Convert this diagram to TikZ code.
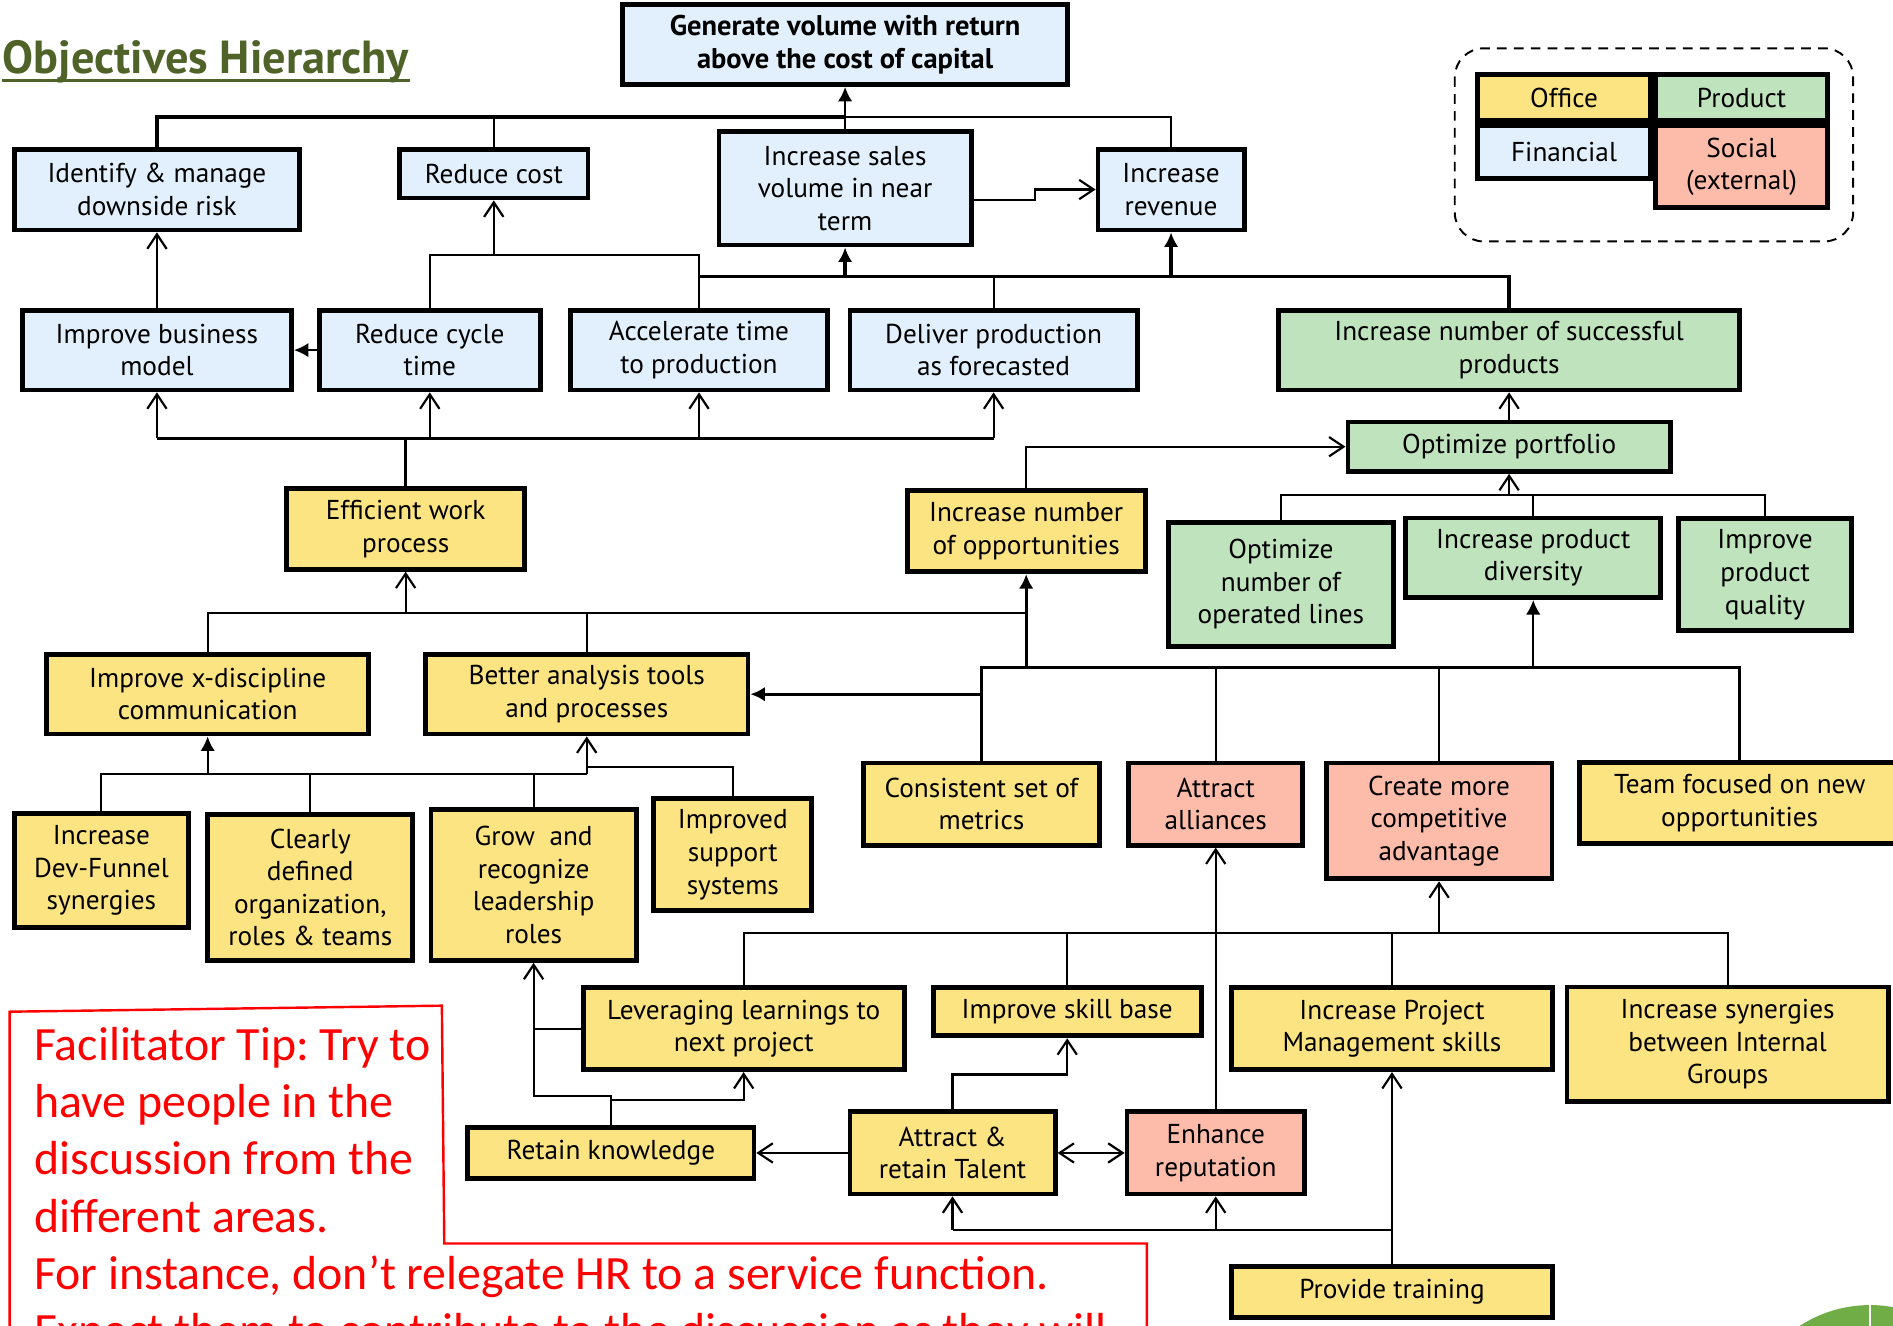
\documentclass[tikz,border=0pt]{standalone}
\usepackage{fontspec}
\setmainfont{PT Sans}
\newfontfamily\tipfont{Carlito}
\usetikzlibrary{arrows.meta}
\frenchspacing

\definecolor{fincol}{RGB}{226,240,254}
\definecolor{offcol}{RGB}{253,228,130}
\definecolor{prodcol}{RGB}{191,227,189}
\definecolor{soccol}{RGB}{253,187,170}
\definecolor{titlegreen}{RGB}{79,98,40}
\definecolor{tipred}{RGB}{255,0,0}
\definecolor{logogreen}{RGB}{112,173,71}

\begin{document}
\begin{tikzpicture}[x=0.5pt,y=-0.5pt,
  boxtext/.style={font=\fontsize{11.3}{13.5}\selectfont},
  obj/.style={draw=black, line width=2pt, align=center, inner sep=1pt, boxtext},
  fin/.style={obj, fill=fincol},
  off/.style={obj, fill=offcol},
  prod/.style={obj, fill=prodcol},
  soc/.style={obj, fill=soccol},
  sz/.style 2 args={minimum width=#1*0.5pt, minimum height=#2*0.5pt},
  link/.style={line width=0.9pt},
  bus/.style={line width=1.4pt},
  openhead/.style={-{Straight Barb[length=6pt,width=8pt]}},
  fillhead/.style={-{Latex[length=6pt,width=6pt]}},
  tipline/.style={anchor=base west, inner sep=0pt, text=tipred,
    font=\tipfont\fontsize{19.8}{24}\selectfont},
]
\useasboundingbox (0,0) rectangle (1568,1098);

% title
\node[anchor=base west, inner sep=0pt, text=titlegreen,
  font=\fontsize{19.2}{22}\selectfont\bfseries] (title) at (2,61) {Objectives Hierarchy};
\draw[titlegreen, line width=1.2pt] ([yshift=-2.8pt]title.base west) -- ([yshift=-2.8pt]title.base east);

% legend
\draw[dashed, dash pattern=on 4pt off 3pt, rounded corners=12pt, line width=0.8pt] (1205,40) rectangle (1535,200);
\node[off, sz={143}{38}] (lgoff) at (1295.5,81) {Office};
\node[prod, sz={143}{38}] (lgprod) at (1442.5,81) {Product};
\node[fin, sz={143}{44}] (lgfin) at (1295.5,126) {Financial};
\node[soc, sz={143}{68}] (lgsoc) at (1442.5,138) {Social\\(external)};

% financial objectives
\node[fin, sz={369}{66}, font=\fontsize{11.8}{13.8}\selectfont\bfseries] (gen) at (700,37) {Generate volume with return\\above the cost of capital};
\node[fin, sz={236}{67}] (idr) at (130,157) {Identify \& manage\\downside risk};
\node[fin, sz={156}{40}] (rc) at (409,144) {Reduce cost};
\node[fin, sz={209}{94}] (isv) at (700,156) {Increase sales\\volume in near\\term};
\node[fin, sz={121}{67}] (ir) at (970,157) {Increase\\revenue};
\node[fin, sz={223}{66}] (ibm) at (130,290) {Improve business\\model};
\node[fin, sz={183}{66}] (rct) at (356,290) {Reduce cycle\\time};
\node[fin, sz={213}{66}] (atp) at (579,290) {Accelerate time\\to production};
\node[fin, sz={238}{66}] (dpf) at (823,290) {Deliver production\\as forecasted};

% product objectives
\node[prod, sz={382}{66}] (insp) at (1250,290) {Increase number of successful\\products};
\node[prod, sz={267}{41}] (op) at (1250,370) {Optimize portfolio};
\node[prod, sz={186}{103}] (onol) at (1061,484) {Optimize\\number of\\operated lines};
\node[prod, sz={211}{66}] (ipd) at (1270,462) {Increase product\\diversity};
\node[prod, sz={143}{93}] (ipq) at (1462,476) {Improve\\product\\quality};

% office objectives
\node[off, sz={197}{67}] (ewp) at (336,438) {Efficient work\\process};
\node[off, sz={197}{67}] (ino) at (850,440) {Increase number\\of opportunities};
\node[off, sz={267}{66}] (ixc) at (172,575) {Improve x-discipline\\communication};
\node[off, sz={267}{66}] (bat) at (486,575) {Better analysis tools\\and processes};
\node[off, sz={144}{94}] (idf) at (84,721) {Increase\\Dev-Funnel\\synergies};
\node[off, sz={170}{121}] (cdo) at (257,735) {Clearly\\defined\\organization,\\roles \& teams};
\node[off, sz={170}{125}] (grl) at (442,733) {Grow\ \ and\\recognize\\leadership\\roles};
\node[off, sz={131}{93}] (iss) at (607,708) {Improved\\support\\systems};
\node[off, sz={196}{68}] (csm) at (813,666) {Consistent set of\\metrics};
\node[soc, sz={144}{68}] (aa) at (1007,666) {Attract\\alliances};
\node[soc, sz={187}{96}] (ccma) at (1192,680) {Create more\\competitive\\advantage};
\node[off, sz={266}{67}] (tfn) at (1441,665) {Team focused on new\\opportunities};
\node[off, sz={266}{68}] (llnp) at (616,852) {Leveraging learnings to\\next project};
\node[off, sz={222}{40}] (isb) at (884,838) {Improve skill base};
\node[off, sz={266}{68}] (ipm) at (1153,852) {Increase Project\\Management skills};
\node[off, sz={266}{95}] (isig) at (1431,865) {Increase synergies\\between Internal\\Groups};
\node[off, sz={237}{42}] (rk) at (506,955) {Retain knowledge};
\node[off, sz={170}{68}] (art) at (789,955) {Attract \&\\retain Talent};
\node[soc, sz={147}{68}] (er) at (1007,955) {Enhance\\reputation};
\node[off, sz={266}{42}] (pt) at (1153,1070) {Provide training};

% bus heights
\coordinate (b97) at (0,97);
\coordinate (b166) at (0,166);
\coordinate (kink) at (857,0);
\coordinate (b211) at (0,211);
\coordinate (b229) at (0,229);
\coordinate (b363) at (0,363);
\coordinate (b410) at (0,410);
\coordinate (b508) at (0,508);
\coordinate (b553) at (0,553);
\coordinate (b635) at (0,635);
\coordinate (b641) at (0,641);
\coordinate (b773) at (0,773);
\coordinate (b890) at (0,890);
\coordinate (b908) at (0,908);
\coordinate (b911) at (0,911);
\coordinate (b1019) at (0,1019);

% top level
\draw[bus] (idr.north) |- (isv.north |- b97);
\draw[link] (isv.north |- b97) -| (ir.north);
\draw[link] (rc.north) -- (rc.north |- b97);
\draw[link] (isv.north) -- (isv.north |- b97);
\draw[link, fillhead] (isv.north |- b97) -- (gen.south);
\draw[link, openhead] (isv.east |- b166) -| (kink |- ir.west) -- (ir.west);

% second level
\draw[link] (rct.north) |- (atp.north |- b211) -- (atp.north);
\draw[link, openhead] (rc.south |- b211) -- (rc.south);
\draw[bus] (atp.north |- b229) -| (insp.north);
\draw[link] (dpf.north) -- (dpf.north |- b229);
\draw[bus, fillhead] (isv.south |- b229) -- (isv.south);
\draw[bus, fillhead] (ir.south |- b229) -- (ir.south);
\draw[link, fillhead] (rct.west) -- (ibm.east);
\draw[link, openhead] (ibm.north) -- (idr.south);

% efficient work process
\draw[bus] (ewp.north) -- (ewp.north |- b363);
\draw[bus] (ibm.south |- b363) -- (dpf.south |- b363);
\draw[link, openhead] (ibm.south |- b363) -- (ibm.south);
\draw[link, openhead] (rct.south |- b363) -- (rct.south);
\draw[link, openhead] (atp.south |- b363) -- (atp.south);
\draw[link, openhead] (dpf.south |- b363) -- (dpf.south);

% portfolio
\draw[link, openhead] (ino.north) |- (op.west);
\draw[link, openhead] (op.north) -- (insp.south);
\draw[link] (onol.north) |- (ipq.north |- b410) -- (ipq.north);
\draw[link] (ipd.north) -- (ipd.north |- b410);
\draw[link, openhead] (op.south |- b410) -- (op.south);

% middle
\draw[link] (ixc.north) |- (ino.south |- b508);
\draw[link] (bat.north) -- (bat.north |- b508);
\draw[link, openhead] (ewp.south |- b508) -- (ewp.south);
\draw[bus, fillhead] (ino.south |- b553) -- (ino.south);
\draw[bus] (csm.north) |- (tfn.north |- b553) -- (tfn.north);
\draw[link] (aa.north) -- (aa.north |- b553);
\draw[link] (ccma.north) -- (ccma.north |- b553);
\draw[link, fillhead] (ipd.south |- b553) -- (ipd.south);
\draw[bus, fillhead] (csm.north |- bat.east) -- (bat.east);

% lower left
\draw[link] (idf.north) |- (bat.south |- b641);
\draw[link] (cdo.north) -- (cdo.north |- b641);
\draw[link] (grl.north) -- (grl.north |- b641);
\draw[link] (iss.north) |- (bat.south |- b635);
\draw[link, fillhead] (ixc.south |- b641) -- (ixc.south);
\draw[link, openhead] (bat.south |- b641) -- (bat.south);

% lower right
\draw[link] (llnp.north) |- (isig.north |- b773) -- (isig.north);
\draw[link] (isb.north) -- (isb.north |- b773);
\draw[link] (ipm.north) -- (ipm.north |- b773);
\draw[link, openhead] (ccma.south |- b773) -- (ccma.south);
\draw[link, openhead] (er.north) -- (aa.south);

% talent and knowledge
\draw[link, openhead] (rk.north) |- (grl.south |- b908) -- (grl.south);
\draw[link] (llnp.west) -- (grl.south |- llnp.west);
\draw[link, openhead] (rk.north |- b911) -| (llnp.south);
\draw[link, openhead] (art.west) -- (rk.east);
\draw[link, {Straight Barb[length=6pt,width=8pt]}-{Straight Barb[length=6pt,width=8pt]}] (art.east) -- (er.west);
\draw[link, openhead] (art.north) |- (isb.south |- b890) -- (isb.south);
\draw[link, openhead] (pt.north) -- (ipm.south);
\draw[link] (art.south |- b1019) -- (pt.north |- b1019);
\draw[link, openhead] (art.south |- b1019) -- (art.south);
\draw[link, openhead] (er.south |- b1019) -- (er.south);

% facilitator tip
\draw[tipred, line width=1pt] (8,1110) -- (8,838) -- (366,833) -- (368,1030) -- (950,1030) -- (950,1110);
\node[tipline] (tip1) at (28,878) {Facilitator Tip: Try to};
\node[tipline] (tip2) at (28,925.5) {have people in the};
\node[tipline] (tip3) at (28,973) {discussion from the};
\node[tipline] (tip4) at (28,1020.5) {different areas.};
\node[tipline] (tip5) at (28,1068) {For instance, don’t relegate HR to a service function.};
\node[tipline] (tip6) at (28,1115.5) {Expect them to contribute to the discussion as they will};

% corner emblem
\fill[logogreen] (1549,1188) circle (107);
\draw[white, line width=1pt] (1549,1080) -- (1549,1100);
\end{tikzpicture}
\end{document}
